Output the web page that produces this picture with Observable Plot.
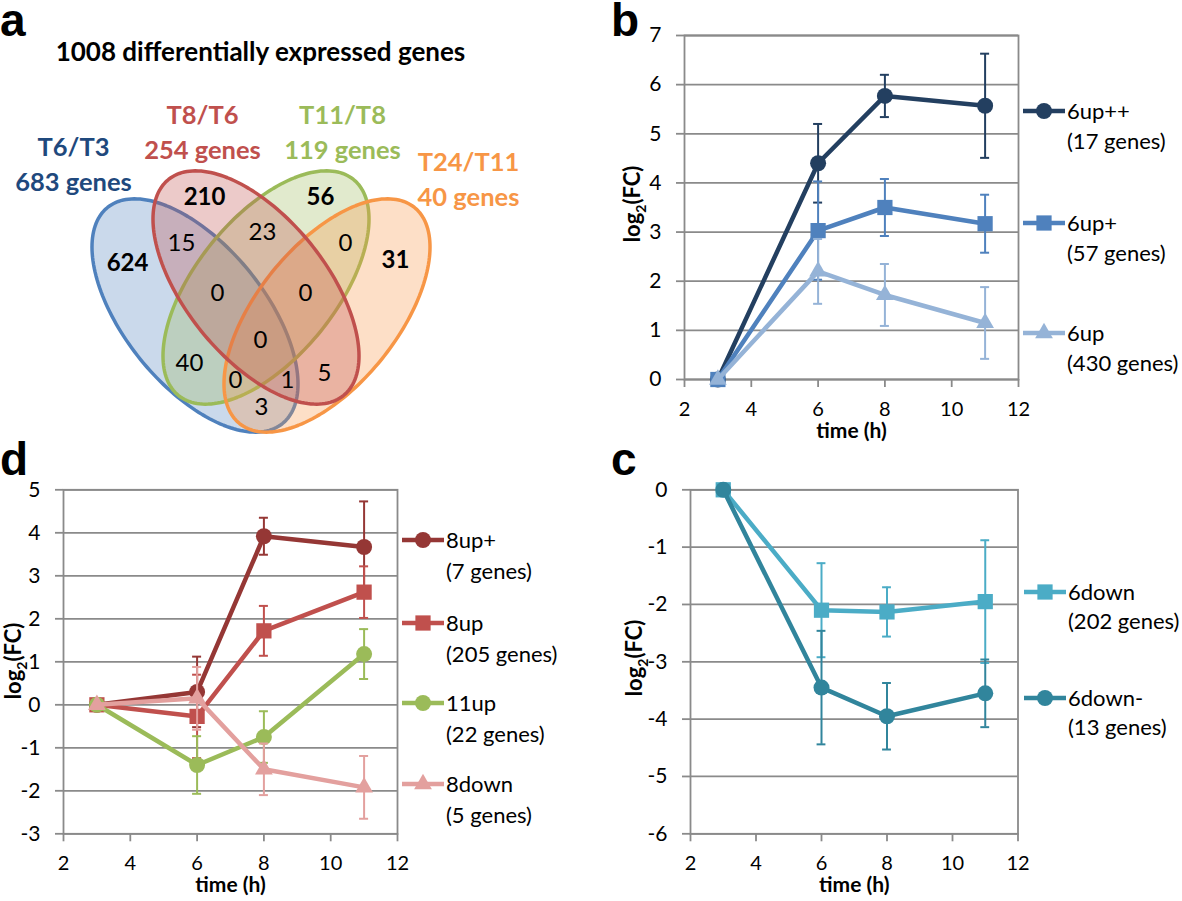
<!DOCTYPE html>
<html><head><meta charset="utf-8">
<script src="https://cdn.jsdelivr.net/npm/d3@7"></script>
<script src="https://cdn.jsdelivr.net/npm/@observablehq/plot@0.6"></script>
<style>
body{margin:0;background:#fff;}
#root{position:relative;width:1182px;height:901px;overflow:hidden;font-family:Lato,sans-serif;}
#root svg{position:absolute;overflow:visible;}
</style></head><body><div id="root"></div>
<script>
// ---------------- DATA ----------------
const hours = [3, 6, 8, 11];
const xTicks = [2, 4, 6, 8, 10, 12];

// Panel a (Venn)
const vennTitle = "1008 differentially expressed genes";
const vennSets = ["T6/T3", "T8/T6", "T11/T8", "T24/T11"];
const vennSetSizes = ["683 genes", "254 genes", "119 genes", "40 genes"];
const vennCounts = [624, 210, 56, 31, 15, 23, 0, 0, 0, 0, 40, 0, 1, 5, 3];
const vennCountBold = [true, true, true, true, false, false, false, false, false, false, false, false, false, false, false];

// Panel b
const bNames = ["6up++", "6up+", "6up"];
const bGenes = ["(17 genes)", "(57 genes)", "(430 genes)"];
const b6upPP = [0, 4.4, 5.77, 5.57];
const b6upPPerr = [0, 0.8, 0.43, 1.06];
const b6upP = [0, 3.03, 3.5, 3.17];
const b6upPerr = [0, 1.0, 0.58, 0.59];
const b6up = [0, 2.2, 1.72, 1.15];
const b6upErr = [0, 0.66, 0.63, 0.73];
const bYTicks = [0, 1, 2, 3, 4, 5, 6, 7];

// Panel c
const cNames = ["6down", "6down-"];
const cGenes = ["(202 genes)", "(13 genes)"];
const c6down = [0, -2.1, -2.13, -1.95];
const c6downErr = [0, 0.82, 0.43, 1.07];
const c6downM = [0, -3.45, -3.95, -3.55];
const c6downMErr = [0, 0.99, 0.58, 0.59];
const cYTicks = [0, -1, -2, -3, -4, -5, -6];

// Panel d
const dNames = ["8up+", "8up", "11up", "8down"];
const dGenes = ["(7 genes)", "(205 genes)", "(22 genes)", "(5 genes)"];
const d8upP = [0, 0.3, 3.92, 3.67];
const d8upPerr = [0, 0.82, 0.43, 1.06];
const d8up = [0, -0.27, 1.72, 2.62];
const d8upErr = [0, 0.97, 0.58, 0.6];
const d11up = [0, -1.4, -0.75, 1.18];
const d11upErr = [0, 0.67, 0.6, 0.58];
const d8down = [0, 0.15, -1.5, -1.92];
const d8downErr = [0, 0.73, 0.6, 0.73];
const dYTicks = [5, 4, 3, 2, 1, 0, -1, -2, -3];

// ---------------- STYLE / LAYOUT ----------------
const GRID = "#8a8a8a";
const FONT = "Lato, 'Open Sans', sans-serif";
const symR = {circle: 8, square: 8.6, triangle: 6.6};
const root = document.getElementById("root");

function linePanel(cfg) {
  const marks = [
    Plot.gridY(cfg.yTicks, {stroke: GRID, strokeOpacity: 1, strokeWidth: 1.8}),
    Plot.frame({stroke: GRID, strokeWidth: 1.8}),
    Plot.axisY(cfg.yTicks, {tickSize: 8, tickPadding: 15, stroke: GRID, strokeOpacity: 1, strokeWidth: 1.8, fill: "#000",
      tickFormat: d => String(d), fontSize: 21, label: null}),
    Plot.axisX(xTicks, {tickSize: 8, tickPadding: 14, stroke: GRID, strokeOpacity: 1, strokeWidth: 1.8, fill: "#000",
      tickFormat: d => String(d), fontSize: 20, label: null}),
    Plot.text(["time (h)"], {frameAnchor: "bottom", dy: cfg.xlabelDy, text: d => d, fontSize: 21, fontWeight: "bold", fill: "#000"})
  ];
  for (const s of cfg.series) {
    const rows = hours.map((t, i) => ({t, v: s.values[i], e: s.err[i]}));
    const eb = rows.filter(d => d.e > 0);
    const cap = 0.135;
    marks.push(Plot.ruleX(eb, {x: "t", y1: d => d.v - d.e, y2: d => d.v + d.e, stroke: s.color, strokeWidth: 2}));
    marks.push(Plot.ruleY(eb, {y: d => d.v + d.e, x1: d => d.t - cap, x2: d => d.t + cap, stroke: s.color, strokeWidth: 2}));
    marks.push(Plot.ruleY(eb, {y: d => d.v - d.e, x1: d => d.t - cap, x2: d => d.t + cap, stroke: s.color, strokeWidth: 2}));
    marks.push(Plot.line(rows, {x: "t", y: "v", stroke: s.color, strokeWidth: 4.5}));
    marks.push(Plot.dot(rows, {x: "t", y: "v", symbol: s.symbol, r: symR[s.symbol], fill: s.color, stroke: "none"}));
  }
  const svg = Plot.plot({
    width: cfg.width, height: cfg.height,
    marginLeft: cfg.ml, marginRight: cfg.width - cfg.frameRight, marginTop: cfg.mt, marginBottom: cfg.height - cfg.frameBottom,
    x: {domain: [2, 12], axis: null},
    y: {domain: cfg.yDomain, axis: null},
    style: {fontFamily: FONT, fontSize: "21px", color: "#000", background: "transparent", overflow: "visible"},
    marks
  });
  svg.style.left = cfg.left + "px";
  svg.style.top = cfg.top + "px";
  const sel = d3.select(svg);
  // y label with subscript
  const t = sel.append("text")
    .attr("transform", `translate(${cfg.ylabelX},${cfg.ylabelY}) rotate(-90)`)
    .attr("text-anchor", "middle").attr("font-weight", "bold").attr("font-size", 22)
    .attr("font-family", FONT).attr("fill", "#000");
  t.append("tspan").text("log");
  t.append("tspan").attr("font-size", 14).attr("dy", 6).text("2");
  t.append("tspan").attr("dy", -6).text("(FC)");
  // legend
  cfg.series.forEach((s, i) => {
    const y = cfg.legendY[i];
    const x = cfg.legendX;
    sel.append("line").attr("x1", x).attr("x2", x + 42).attr("y1", y).attr("y2", y)
      .attr("stroke", s.color).attr("stroke-width", 4.5);
    const type = {circle: d3.symbolCircle, square: d3.symbolSquare, triangle: d3.symbolTriangle}[s.symbol];
    const r = symR[s.symbol];
    sel.append("path").attr("d", d3.symbol(type, Math.PI * r * r)()).attr("fill", s.color)
      .attr("transform", `translate(${x + 21},${y})`);
    sel.append("text").attr("x", x + 44).attr("y", y).attr("dy", "0.36em").attr("text-anchor", "start")
      .attr("font-size", 22).attr("font-family", FONT).attr("fill", "#000").text(s.name);
    sel.append("text").attr("x", x + 44).attr("y", y + cfg.legendGap).attr("dy", "0.36em").attr("text-anchor", "start")
      .attr("font-size", 22).attr("font-family", FONT).attr("fill", "#000").text(s.genes);
  });
  root.appendChild(svg);
}

// Panel b
linePanel({
  left: 560, top: 0, width: 622, height: 450, ml: 124, frameRight: 458, mt: 35, frameBottom: 379,
  yDomain: [0, 7], yTicks: bYTicks, xlabelDy: 58, ylabelX: 80, ylabelY: 204,
  legendX: 463, legendY: [111, 223, 333], legendGap: 30,
  series: [
    {name: bNames[0], genes: bGenes[0], values: b6upPP, err: b6upPPerr, color: "#233f60", symbol: "circle"},
    {name: bNames[1], genes: bGenes[1], values: b6upP, err: b6upPerr, color: "#4f81bd", symbol: "square"},
    {name: bNames[2], genes: bGenes[2], values: b6up, err: b6upErr, color: "#95b3d7", symbol: "triangle"}
  ]
});

// Panel c
linePanel({
  left: 590, top: 440, width: 592, height: 461, ml: 100, frameRight: 427.5, mt: 49.3, frameBottom: 393.3,
  yDomain: [-6, 0], yTicks: cYTicks, xlabelDy: 58, ylabelX: 52, ylabelY: 218,
  legendX: 434, legendY: [152, 258], legendGap: 29,
  series: [
    {name: cNames[0], genes: cGenes[0], values: c6down, err: c6downErr, color: "#4bacc6", symbol: "square"},
    {name: cNames[1], genes: cGenes[1], values: c6downM, err: c6downMErr, color: "#31859c", symbol: "circle"}
  ]
});

// Panel d
linePanel({
  left: 0, top: 440, width: 590, height: 461, ml: 63, frameRight: 397, mt: 49.3, frameBottom: 393.3,
  yDomain: [-3, 5], yTicks: dYTicks, xlabelDy: 58, ylabelX: 21, ylabelY: 221,
  legendX: 402, legendY: [100, 183, 263, 344], legendGap: 31,
  series: [
    {name: dNames[0], genes: dGenes[0], values: d8upP, err: d8upPerr, color: "#953735", symbol: "circle"},
    {name: dNames[1], genes: dGenes[1], values: d8up, err: d8upErr, color: "#c0504d", symbol: "square"},
    {name: dNames[2], genes: dGenes[2], values: d11up, err: d11upErr, color: "#9bbb59", symbol: "circle"},
    {name: dNames[3], genes: dGenes[3], values: d8down, err: d8downErr, color: "#e3a09e", symbol: "triangle"}
  ]
});

// Panel a: Venn
const setColors = ["#4f81bd", "#c0504d", "#9bbb59", "#f79646"];
const setTextColors = ["#1f497d", "#c0504d", "#9bbb59", "#f79646"];
const ellipseLayout = [ // drawing order: blue, green, orange, red
  {set: 0, cx: 194.5, cy: 315, a: 139, b: 70, angle: 51},
  {set: 2, cx: 265.5, cy: 287, a: 139, b: 70, angle: 129},
  {set: 3, cx: 326.5, cy: 315, a: 139, b: 70, angle: 129},
  {set: 1, cx: 255.5, cy: 287, a: 139, b: 70, angle: 51}
];
const setLabelPos = [[73, 147], [202, 115], [342, 115], [468, 162]];
const setLabelGap = 35;
const countPos = [[127, 263], [204, 197], [320, 197], [395, 260], [181, 243], [262, 232], [345, 243],
  [217, 293], [305, 293], [260, 340], [189, 363], [235, 380], [287, 380], [324, 373], [261, 407]];

function ellipsePts(e) {
  const th = e.angle * Math.PI / 180, pts = [];
  for (let k = 0; k < 180; k++) {
    const t = 2 * Math.PI * k / 180;
    pts.push({x: e.cx + e.a * Math.cos(t) * Math.cos(th) - e.b * Math.sin(t) * Math.sin(th),
              y: e.cy + e.a * Math.cos(t) * Math.sin(th) + e.b * Math.sin(t) * Math.cos(th)});
  }
  return pts;
}
const vennMarks = [];
for (const e of ellipseLayout) {
  vennMarks.push(Plot.line(ellipsePts(e), {x: "x", y: "y", curve: "linear-closed",
    stroke: setColors[e.set], strokeWidth: 3.5, fill: setColors[e.set], fillOpacity: 0.3}));
}
const setRows = vennSets.map((s, i) => ({name: s, size: vennSetSizes[i], i}));
vennMarks.push(Plot.text(setRows, {x: d => setLabelPos[d.i][0], y: d => setLabelPos[d.i][1], text: "name",
  fill: d => setTextColors[d.i], fontSize: 25.5, fontWeight: "bold"}));
vennMarks.push(Plot.text(setRows, {x: d => setLabelPos[d.i][0], y: d => setLabelPos[d.i][1] + setLabelGap, text: "size",
  fill: d => setTextColors[d.i], fontSize: 25.5, fontWeight: "bold"}));
const countRows = vennCounts.map((c, i) => ({c, i, bold: vennCountBold[i]}));
vennMarks.push(Plot.text(countRows.filter(d => d.bold), {x: d => countPos[d.i][0], y: d => countPos[d.i][1], text: d => String(d.c),
  fontSize: 24, fontWeight: "bold", fill: "#000"}));
vennMarks.push(Plot.text(countRows.filter(d => !d.bold), {x: d => countPos[d.i][0], y: d => countPos[d.i][1], text: d => String(d.c),
  fontSize: 24, fill: "#000"}));
vennMarks.push(Plot.text([vennTitle], {x: () => 260, y: () => 52, text: d => d, fontSize: 26, fontWeight: "bold", fill: "#000"}));

const venn = Plot.plot({
  width: 560, height: 440, margin: 0,
  x: {domain: [0, 560], range: [0, 560], axis: null},
  y: {domain: [0, 440], range: [0, 440], axis: null},
  color: {type: "identity"},
  style: {fontFamily: FONT, background: "transparent", overflow: "visible"},
  marks: vennMarks
});
venn.style.left = "0px"; venn.style.top = "0px";
root.appendChild(venn);

// Panel letters
const over = d3.select(root).append("svg").attr("width", 1182).attr("height", 901)
  .style("left", "0px").style("top", "0px").style("pointer-events", "none");
[["a", 0, 36], ["b", 611, 36], ["c", 611, 475], ["d", 0, 475]].forEach(([l, x, y]) => {
  over.append("text").attr("x", x).attr("y", y).attr("font-family", "'Liberation Sans', Arial, sans-serif")
    .attr("font-weight", "bold").attr("font-size", 46).attr("fill", "#000").text(l);
});
</script></body></html>
